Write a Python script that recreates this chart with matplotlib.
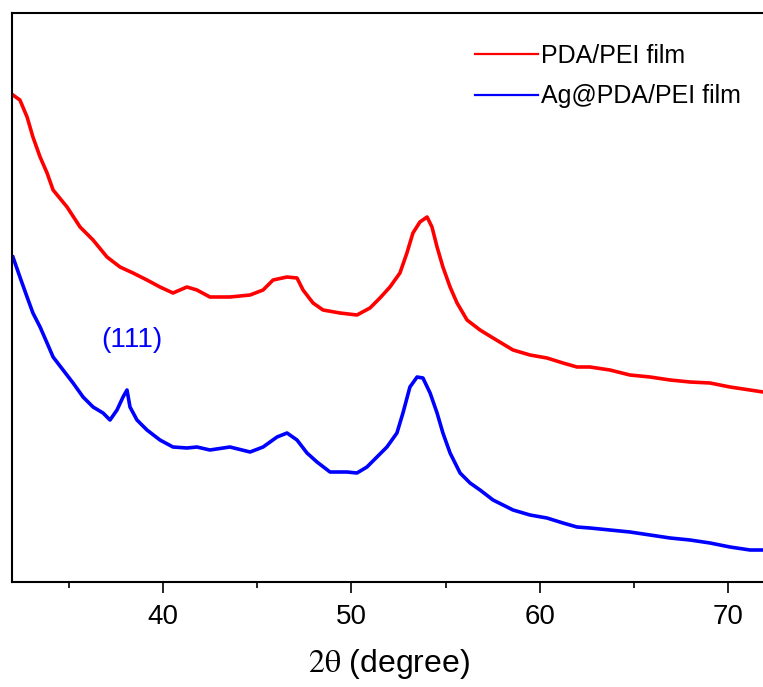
import matplotlib
matplotlib.use("Agg")
import matplotlib.pyplot as plt

# Data (2theta in degrees, intensity in arbitrary units)
two_theta_pda = [32.05, 32.42, 32.80, 33.11, 33.49, 33.86, 34.18, 34.92, 35.61, 36.30,
                 37.04, 37.73, 38.42, 39.16, 39.85, 40.54, 41.28, 41.81, 42.50, 43.56,
                 44.63, 45.32, 45.85, 46.59, 47.12, 47.44, 47.97, 48.50, 49.40, 50.30,
                 50.99, 51.52, 52.05, 52.58, 52.95, 53.27, 53.64, 54.02, 54.28, 54.55,
                 54.86, 55.24, 55.61, 56.14, 56.83, 57.52, 58.58, 59.48, 60.38, 61.23,
                 61.97, 62.66, 63.72, 64.78, 65.85, 66.91, 67.97, 69.03, 70.09, 71.15, 71.84]
intensity_pda = [487, 482, 465, 445, 425, 409, 392, 375, 355, 342,
                 325, 315, 309, 302, 295, 289, 295, 292, 285, 285,
                 287, 292, 302, 305, 304, 292, 279, 272, 269, 267,
                 274, 284, 295, 309, 329, 349, 360, 365, 355, 335,
                 315, 295, 279, 262, 252, 244, 232, 227, 224, 219,
                 215, 215, 212, 207, 205, 202, 200, 199, 195, 192, 190]

two_theta_ag = [32.05, 32.42, 32.80, 33.11, 33.49, 33.86, 34.18, 34.71, 35.24, 35.77,
                36.30, 36.83, 37.20, 37.57, 37.89, 38.10, 38.26, 38.63, 39.16, 39.85,
                40.54, 41.28, 41.81, 42.50, 43.56, 44.63, 45.32, 46.06, 46.59, 47.12,
                47.65, 48.18, 48.87, 49.77, 50.30, 50.83, 51.36, 51.89, 52.42, 52.74,
                53.11, 53.49, 53.80, 54.18, 54.55, 54.86, 55.24, 55.77, 56.30, 56.83,
                57.52, 58.58, 59.48, 60.38, 61.23, 61.97, 62.66, 63.72, 64.78, 65.85,
                66.91, 67.97, 69.03, 70.09, 71.15, 71.84]
intensity_ag = [325, 305, 285, 269, 255, 239, 225, 212, 199, 185,
                175, 169, 162, 172, 185, 192, 175, 162, 152, 142,
                135, 134, 135, 132, 135, 130, 135, 145, 149, 142,
                129, 120, 110, 110, 109, 115, 125, 135, 149, 169,
                195, 205, 204, 189, 169, 149, 129, 109, 99, 92,
                82, 72, 67, 64, 59, 55, 54, 52, 50, 47,
                44, 42, 39, 35, 32, 32]

series_labels = ["PDA/PEI film", "Ag@PDA/PEI film"]
peak_label = "(111)"
peak_pos = (38.37, 242)
major_ticks = [40, 50, 60, 70]
minor_ticks = [35, 45, 55, 65]

plt.rcParams['font.family'] = ['Liberation Sans', 'DejaVu Sans']
plt.rcParams['mathtext.fontset'] = 'stix'

W, H = 763, 687
fig = plt.figure(figsize=(W / 100, H / 100), dpi=100)
ax = fig.add_axes([12 / W, 105 / H, 754 / W, 569 / H])

ax.plot(two_theta_pda, intensity_pda, color='#ff0000', lw=2.6, label=series_labels[0])
ax.plot(two_theta_ag, intensity_ag, color='#0000ff', lw=2.6, label=series_labels[1])

ax.set_xlim(32, 72)
ax.set_ylim(0, 569)
ax.set_xticks(major_ticks)
ax.set_xticks(minor_ticks, minor=True)
ax.set_yticks([])
ax.tick_params(axis='x', which='major', direction='out', length=8, width=1.2,
               labelsize=20, pad=8)
ax.tick_params(axis='x', which='minor', direction='out', length=4.5, width=1.2)
for sp in ax.spines.values():
    sp.set_linewidth(1.5)

ax.set_xlabel(r'$\mathrm{2\theta}$ (degree)', fontsize=23, labelpad=12)

ax.text(peak_pos[0], peak_pos[1], peak_label, color='#0000ff', fontsize=20,
        ha='center', va='center')

leg = ax.legend(loc='upper left', bbox_to_anchor=(463 / 754, 1 - 31 / 569),
                frameon=False, fontsize=18, handlelength=2.5, handletextpad=0.15,
                labelspacing=0.65, borderpad=0, borderaxespad=0)
for line in leg.get_lines():
    line.set_linewidth(1.6)

fig.savefig('out.png', dpi=100)
